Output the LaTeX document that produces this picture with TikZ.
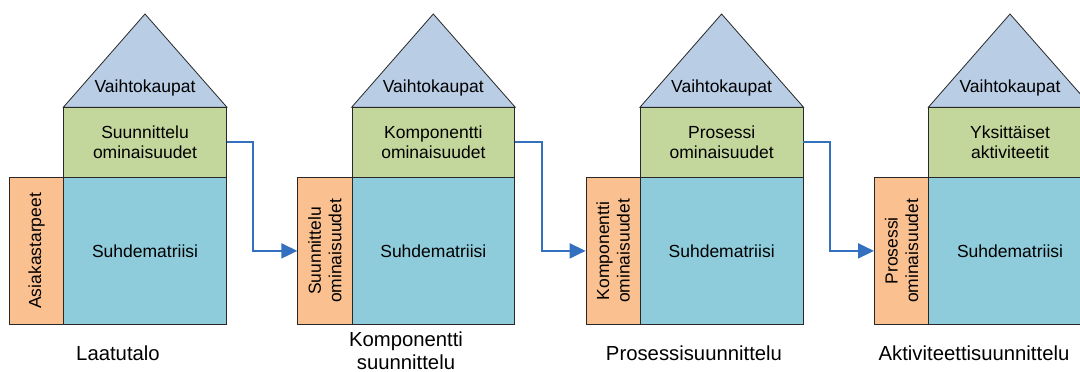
\documentclass[tikz,border=0pt]{standalone}
\usepackage{fontspec}
\setmainfont{Liberation Sans}
\usetikzlibrary{arrows.meta}
\definecolor{roofcol}{RGB}{185,205,229}
\definecolor{featcol}{RGB}{195,214,155}
\definecolor{matcol}{RGB}{142,204,219}
\definecolor{needcol}{RGB}{250,192,144}
\definecolor{flowcol}{RGB}{52,112,192}
\definecolor{edgecol}{RGB}{40,40,40}
\tikzset{
  part/.style={draw=edgecol, line width=0.8pt, inner sep=0pt, anchor=north west,
    align=center, font=\fontsize{17.5}{20.5}\selectfont},
  roofpart/.style={draw=edgecol, line width=0.8pt, fill=roofcol, line join=miter},
  rooftext/.style={font=\fontsize{17.5}{20.5}\selectfont},
  caption/.style={align=center, inner sep=0pt, font=\fontsize{20.3}{22.5}\selectfont},
  flow/.style={draw=flowcol, line width=2pt, -{Triangle[length=16pt,width=15pt]}}
}
% one house: #1 x offset, #2 name suffix, #3 upper block text, #4 side block text
\newcommand\qfdhouse[4]{%
  \path[roofpart] (#1+63.3,107.3) -- (#1+145,14) -- (#1+227,107.3) -- cycle;
  \node[rooftext] (r#2) at (#1+145,88) {Vaihtokaupat};
  \node[part, fill=featcol, minimum width=162.7pt, minimum height=69.4pt]
    (g#2) at (#1+63.3,107.3) {#3};
  \node[part, fill=matcol, minimum width=162.7pt, minimum height=147.6pt]
    (m#2) at (#1+63.3,176.7) {Suhdematriisi};
  \node[part, fill=needcol, minimum width=54.3pt, minimum height=147.6pt]
    (o#2) at (#1+9,176.7) {};
  \node[rotate=90, align=center, font=\fontsize{17.5}{20.5}\selectfont]
    (t#2) at (o#2.center) {#4};
}
\begin{document}
\begin{tikzpicture}[x=1pt, y=-1pt]
  \useasboundingbox (0,0) rectangle (1080,372);
  \begin{scope}
    \clip (0,0) rectangle (1080,372);
    \qfdhouse{0}{a}{Suunnittelu\\ominaisuudet}{Asiakastarpeet}
    \qfdhouse{288.3}{b}{Komponentti\\ominaisuudet}{Suunnittelu\\ominaisuudet}
    \qfdhouse{576.6}{c}{Prosessi\\ominaisuudet}{Komponentti\\ominaisuudet}
    \qfdhouse{865}{d}{Yksittäiset\\aktiviteetit}{Prosessi\\ominaisuudet}
  \end{scope}
  % flow from each house to the next one
  \draw[flow] (ga.east) -- ++(26.5,0) |- (ob.west);
  \draw[flow] (gb.east) -- ++(26.5,0) |- (oc.west);
  \draw[flow] (gc.east) -- ++(26.5,0) |- (od.west);
  % captions
  \node[caption] (la) at (118,353) {Laatutalo};
  \node[caption] (lb) at (406,350.5) {Komponentti\\suunnittelu};
  \node[caption] (lc) at (694,353) {Prosessisuunnittelu};
  \node[caption] (ld) at (974,353) {Aktiviteettisuunnittelu};
\end{tikzpicture}
\end{document}
